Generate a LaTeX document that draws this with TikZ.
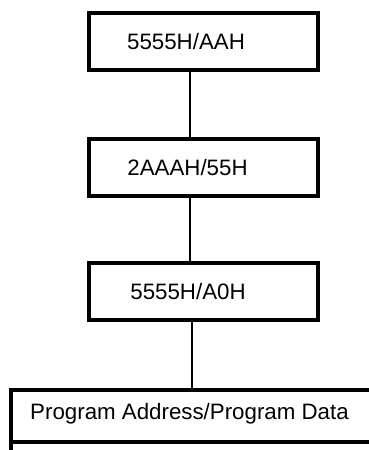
\documentclass[tikz,border=0pt]{standalone}
\usepackage{fontspec}
\setmainfont{Liberation Sans}
\begin{document}
\begin{tikzpicture}[x=1pt,y=-1pt,
  stepbox/.style={draw, line width=4pt, minimum height=57pt, minimum width=229pt, inner sep=0pt},
  label/.style={font=\fontsize{22.3}{26}\selectfont, inner sep=0pt},
  link/.style={line width=2.6pt}]
\useasboundingbox (0,0) rectangle (369,450);
\node[stepbox] (b1) at (203,41.5) {};
\node[label] (t1) at (186,42) {5555H/AAH};
\node[stepbox] (b2) at (203,167.5) {};
\node[label] (t2) at (187.5,168) {2AAAH/55H};
\node[stepbox] (b3) at (203,291) {};
\node[label] (t3) at (188,292) {5555H/A0H};
\draw[line width=4pt] (385,390) -- (11,390) -- (11,455) (11,442) -- (385,442);
\node[label] (t4) at (189.5,414) {Program Address/Program Data};
\coordinate (c4) at (192,390);
\draw[link] (b1.south -| 190,0) -- (b2.north -| 190,0);
\draw[link] (b2.south -| 190,0) -- (b3.north -| 190,0);
\draw[link] (b3.south -| 192,0) -- (c4);
\end{tikzpicture}
\end{document}
